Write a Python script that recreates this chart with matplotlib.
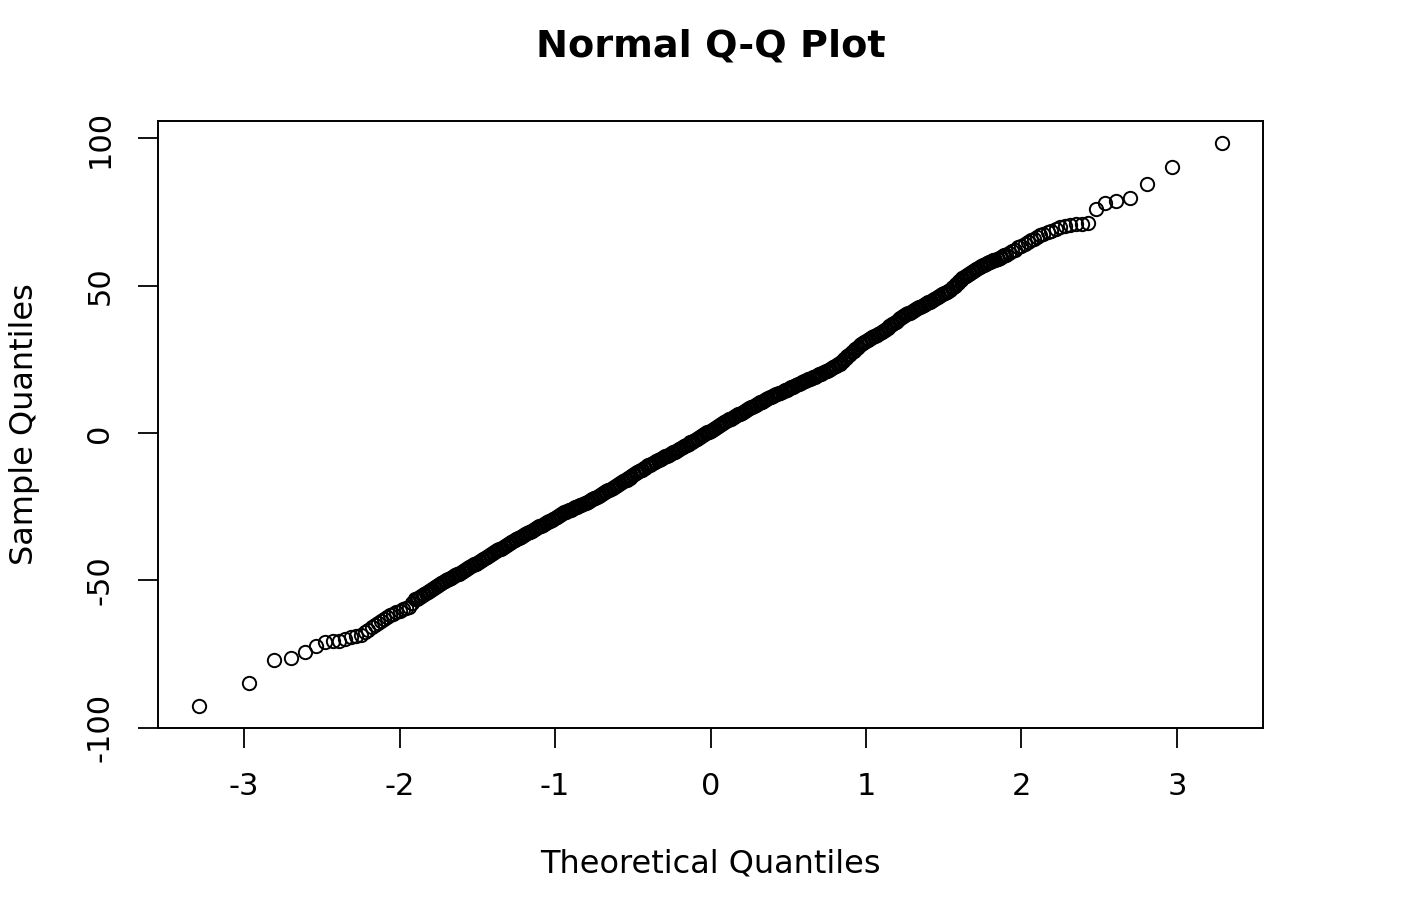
import matplotlib
matplotlib.use("Agg")
import matplotlib.pyplot as plt

# Normal Q-Q plot
# lower tail points (theoretical, sample)
tail_lo_theo = [-3.29, -2.97, -2.81, -2.70, -2.61, -2.54, -2.48, -2.43, -2.39,
                -2.35, -2.31, -2.28, -2.25, -2.22]
tail_lo_sample = [-92.5, -84.8, -76.9, -76.4, -74.4, -72.4, -71.0, -70.7, -70.5,
                  -69.8, -69.3, -69.0, -68.4, -67.6]

# dense middle part of the curve
body_theo = [
    -2.20, -2.18, -2.16, -2.14, -2.12, -2.10, -2.08, -2.06, -2.04, -2.02,
    -2.00, -1.98, -1.96, -1.94, -1.92,
    -1.90, -1.89, -1.88, -1.87, -1.86, -1.85, -1.84, -1.83, -1.82, -1.81,
    -1.80, -1.79, -1.78, -1.77, -1.76, -1.75, -1.74, -1.73, -1.72, -1.71,
    -1.70, -1.69, -1.68, -1.67, -1.66, -1.65, -1.64, -1.63, -1.62, -1.61,
    -1.60, -1.59, -1.58, -1.57, -1.56, -1.55, -1.54, -1.53, -1.52, -1.51,
    -1.50, -1.49, -1.48, -1.47, -1.46, -1.45, -1.44, -1.43, -1.42, -1.41,
    -1.40, -1.39, -1.38, -1.37, -1.36, -1.35, -1.34, -1.33, -1.32, -1.31,
    -1.30, -1.29, -1.28, -1.27, -1.26, -1.25, -1.24, -1.23, -1.22, -1.21,
    -1.20, -1.19, -1.18, -1.17, -1.16, -1.15, -1.14, -1.13, -1.12, -1.11,
    -1.10, -1.09, -1.08, -1.07, -1.06, -1.05, -1.04, -1.03, -1.02, -1.01,
    -1.00, -0.99, -0.98, -0.97, -0.96, -0.95, -0.94, -0.93, -0.92, -0.91,
    -0.90, -0.89, -0.88, -0.87, -0.86, -0.85, -0.84, -0.83, -0.82, -0.81,
    -0.80, -0.79, -0.78, -0.77, -0.76, -0.75, -0.74, -0.73, -0.72, -0.71,
    -0.70, -0.69, -0.68, -0.67, -0.66, -0.65, -0.64, -0.63, -0.62, -0.61,
    -0.60, -0.59, -0.58, -0.57, -0.56, -0.55, -0.54, -0.53, -0.52, -0.51,
    -0.50, -0.49, -0.48, -0.47, -0.46, -0.45, -0.44, -0.43, -0.42, -0.41,
    -0.40, -0.39, -0.38, -0.37, -0.36, -0.35, -0.34, -0.33, -0.32, -0.31,
    -0.30, -0.29, -0.28, -0.27, -0.26, -0.25, -0.24, -0.23, -0.22, -0.21,
    -0.20, -0.19, -0.18, -0.17, -0.16, -0.15, -0.14, -0.13, -0.12, -0.11,
    -0.10, -0.09, -0.08, -0.07, -0.06, -0.05, -0.04, -0.03, -0.02, -0.01,
    0.00, 0.01, 0.02, 0.03, 0.04, 0.05, 0.06, 0.07, 0.08, 0.09,
    0.10, 0.11, 0.12, 0.13, 0.14, 0.15, 0.16, 0.17, 0.18, 0.19,
    0.20, 0.21, 0.22, 0.23, 0.24, 0.25, 0.26, 0.27, 0.28, 0.29,
    0.30, 0.31, 0.32, 0.33, 0.34, 0.35, 0.36, 0.37, 0.38, 0.39,
    0.40, 0.41, 0.42, 0.43, 0.44, 0.45, 0.46, 0.47, 0.48, 0.49,
    0.50, 0.51, 0.52, 0.53, 0.54, 0.55, 0.56, 0.57, 0.58, 0.59,
    0.60, 0.61, 0.62, 0.63, 0.64, 0.65, 0.66, 0.67, 0.68, 0.69,
    0.70, 0.71, 0.72, 0.73, 0.74, 0.75, 0.76, 0.77, 0.78, 0.79,
    0.80, 0.81, 0.82, 0.83, 0.84, 0.85, 0.86, 0.87, 0.88, 0.89,
    0.90, 0.91, 0.92, 0.93, 0.94, 0.95, 0.96, 0.97, 0.98, 0.99,
    1.00, 1.01, 1.02, 1.03, 1.04, 1.05, 1.06, 1.07, 1.08, 1.09,
    1.10, 1.11, 1.12, 1.13, 1.14, 1.15, 1.16, 1.17, 1.18, 1.19,
    1.20, 1.21, 1.22, 1.23, 1.24, 1.25, 1.26, 1.27, 1.28, 1.29,
    1.30, 1.31, 1.32, 1.33, 1.34, 1.35, 1.36, 1.37, 1.38, 1.39,
    1.40, 1.41, 1.42, 1.43, 1.44, 1.45, 1.46, 1.47, 1.48, 1.49,
    1.50, 1.51, 1.52, 1.53, 1.54, 1.55, 1.56, 1.57, 1.58, 1.59,
    1.60, 1.61, 1.62, 1.63, 1.64, 1.65, 1.66, 1.67, 1.68, 1.69,
    1.70, 1.71, 1.72, 1.73, 1.74, 1.75, 1.76, 1.77, 1.78, 1.79,
    1.80, 1.81, 1.82, 1.83, 1.84, 1.85, 1.86, 1.87, 1.88, 1.89,
    1.90,
    1.92, 1.94, 1.96, 1.98, 2.00, 2.02, 2.04, 2.06, 2.08, 2.10,
    2.12, 2.14,
]
body_sample = [
    -66.8, -66.0, -65.3, -64.5, -63.8, -63.0, -62.5, -61.9, -61.4, -60.8,
    -60.3, -59.9, -59.4, -59.0, -57.8,
    -56.5, -56.2, -55.9, -55.6, -55.3, -54.9, -54.6, -54.3, -54.0, -53.6,
    -53.3, -52.9, -52.6, -52.3, -52.0, -51.6, -51.3, -51.0, -50.7, -50.3,
    -50.0, -49.7, -49.4, -49.1, -48.9, -48.6, -48.3, -48.0, -47.8, -47.5,
    -47.2, -46.9, -46.6, -46.2, -45.9, -45.6, -45.3, -44.9, -44.6, -44.3,
    -44.0, -43.7, -43.4, -43.0, -42.7, -42.4, -42.1, -41.7, -41.4, -41.1,
    -40.8, -40.5, -40.2, -39.8, -39.5, -39.2, -38.9, -38.6, -38.3, -37.9,
    -37.6, -37.3, -37.0, -36.7, -36.4, -36.1, -35.8, -35.5, -35.2, -34.9,
    -34.6, -34.3, -34.0, -33.7, -33.5, -33.2, -32.9, -32.6, -32.3, -32.0,
    -31.7, -31.4, -31.1, -30.8, -30.5, -30.2, -30.0, -29.7, -29.4, -29.1,
    -28.9, -28.5, -28.1, -27.7, -27.4, -27.1, -26.9, -26.7, -26.5, -26.2,
    -26.0, -25.7, -25.5, -25.2, -25.0, -24.7, -24.5, -24.3, -24.1, -23.8,
    -23.6, -23.3, -23.0, -22.7, -22.4, -22.1, -21.9, -21.6, -21.3, -21.0,
    -20.7, -20.4, -20.1, -19.8, -19.5, -19.2, -19.0, -18.7, -18.4, -18.1,
    -17.8, -17.4, -17.1, -16.7, -16.4, -16.1, -15.8, -15.4, -15.1, -14.7,
    -14.4, -14.0, -13.7, -13.3, -13.0, -12.7, -12.4, -12.0, -11.7, -11.3,
    -11.0, -10.7, -10.4, -10.1, -9.9, -9.6, -9.3, -9.0, -8.8, -8.5,
    -8.2, -7.9, -7.7, -7.4, -7.2, -6.9, -6.6, -6.3, -6.1, -5.8,
    -5.5, -5.2, -4.9, -4.5, -4.2, -3.9, -3.6, -3.2, -2.9, -2.6,
    -2.3, -2.0, -1.7, -1.4, -1.1, -0.7, -0.4, -0.1, 0.2, 0.5,
    0.8, 1.1, 1.4, 1.7, 2.1, 2.4, 2.7, 3.0, 3.4, 3.7,
    4.0, 4.3, 4.6, 4.9, 5.2, 5.4, 5.7, 6.0, 6.3, 6.6,
    6.9, 7.2, 7.5, 7.8, 8.1, 8.4, 8.7, 8.9, 9.2, 9.5,
    9.8, 10.1, 10.4, 10.7, 11.0, 11.3, 11.6, 11.8, 12.1, 12.3,
    12.6, 12.8, 13.1, 13.3, 13.5, 13.7, 14.0, 14.2, 14.5, 14.7,
    15.0, 15.2, 15.5, 15.7, 16.0, 16.2, 16.5, 16.7, 17.0, 17.2,
    17.5, 17.7, 18.0, 18.2, 18.4, 18.6, 18.9, 19.1, 19.4, 19.6,
    19.9, 20.1, 20.4, 20.7, 21.0, 21.2, 21.5, 21.8, 22.1, 22.3,
    22.6, 22.9, 23.3, 23.6, 24.0, 24.5, 25.0, 25.5, 26.0, 26.5,
    27.0, 27.4, 27.9, 28.4, 28.9, 29.3, 29.8, 30.2, 30.6, 31.0,
    31.4, 31.7, 32.0, 32.2, 32.5, 32.8, 33.1, 33.3, 33.6, 33.9,
    34.2, 34.6, 35.0, 35.4, 35.8, 36.2, 36.6, 37.0, 37.4, 37.8,
    38.2, 38.6, 39.0, 39.4, 39.8, 40.1, 40.4, 40.6, 40.9, 41.2,
    41.5, 41.8, 42.1, 42.4, 42.7, 42.9, 43.2, 43.5, 43.8, 44.1,
    44.4, 44.6, 44.9, 45.2, 45.5, 45.8, 46.1, 46.4, 46.8, 47.1,
    47.4, 47.7, 48.0, 48.3, 48.7, 49.1, 49.5, 50.0, 50.5, 51.0,
    51.5, 52.0, 52.5, 52.9, 53.3, 53.6, 54.0, 54.4, 54.8, 55.1,
    55.5, 55.8, 56.1, 56.3, 56.6, 56.9, 57.2, 57.4, 57.7, 57.9,
    58.1, 58.3, 58.6, 58.8, 59.0, 59.2, 59.5, 59.7, 60.0, 60.3,
    60.6,
    61.1, 61.7, 62.3, 63.0, 63.6, 64.3, 64.9, 65.4, 66.0, 66.6,
    67.1, 67.6,
]

# upper tail points
tail_hi_theo = [2.17, 2.19, 2.22, 2.25, 2.28, 2.31, 2.35, 2.39, 2.43, 2.48,
                2.54, 2.61, 2.70, 2.81, 2.97, 3.29]
tail_hi_sample = [68.1, 68.6, 69.3, 69.8, 70.3, 70.6, 70.9, 71.0, 71.3, 76.1,
                  78.1, 78.8, 79.7, 84.7, 90.2, 98.3]

x_ticks = [-3, -2, -1, 0, 1, 2, 3]
y_ticks = [-100, -50, 0, 50, 100]

theo = tail_lo_theo + body_theo + tail_hi_theo
sample = tail_lo_sample + body_sample + tail_hi_sample

W, H = 1416, 916
fig = plt.figure(figsize=(W / 100, H / 100), dpi=100)
ax = fig.add_axes([158 / W, 1 - 728 / H, (1263 - 158) / W, (728 - 121) / H])

ax.plot(theo, sample, linestyle="none", marker="o", markersize=9.6,
        markerfacecolor="none", markeredgecolor="black", markeredgewidth=1.4)

# R style: 4% padding on both axes
ax.margins(x=0.04, y=0.04)

ax.set_xticks(x_ticks)
ax.set_yticks(y_ticks)
ax.set_xticklabels([str(t) for t in x_ticks])
ax.set_yticklabels([str(t) for t in y_ticks], rotation=90, va="center")
ax.tick_params(direction="out", length=14.4, width=1.3, labelsize=22, pad=17)

for sp in ax.spines.values():
    sp.set_linewidth(1.4)

fig.text(710.5 / W, 1 - 57 / H, "Normal Q-Q Plot", ha="center", va="baseline",
         fontsize=27.5, fontweight="bold")
fig.text(710.5 / W, 1 - 873 / H, "Theoretical Quantiles", ha="center",
         va="baseline", fontsize=23)
fig.text(25 / W, 1 - 424.5 / H, "Sample Quantiles", ha="center", va="center",
         rotation=90, fontsize=23)

fig.savefig("out.png", dpi=100)
